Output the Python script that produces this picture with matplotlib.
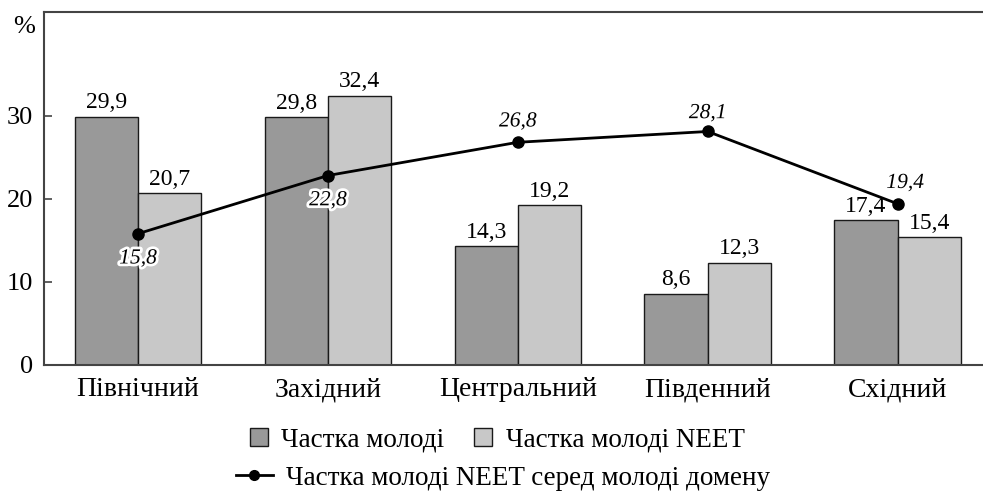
import matplotlib
matplotlib.use("Agg")
import matplotlib.pyplot as plt
import matplotlib.patheffects as pe
from matplotlib.lines import Line2D
from matplotlib.patches import Patch
import numpy as np

categories = ["Північний", "Західний", "Центральний", "Південний", "Східний"]
youth_share = [29.9, 29.8, 14.3, 8.6, 17.4]
neet_share = [20.7, 32.4, 19.2, 12.3, 15.4]
neet_in_domain = [15.8, 22.8, 26.8, 28.1, 19.4]
yticks = [0, 10, 20, 30]

label_series1 = "Частка молоді"
label_series2 = "Частка молоді NEET"
label_series3 = "Частка молоді NEET серед молоді домену"

plt.rcParams['font.family'] = ['Liberation Serif', 'DejaVu Serif']

fig = plt.figure(figsize=(9.83, 4.93), dpi=100)
ax = fig.add_axes([0.0448, 0.2597, 0.9552, 0.7163])

x = np.arange(len(categories))
w = 0.333
dark = "#999999"
light = "#c8c8c8"
edge = "#1a1a1a"

ax.bar(x - w / 2, youth_share, w, color=dark, edgecolor=edge, linewidth=1.0, zorder=2)
ax.bar(x + w / 2, neet_share, w, color=light, edgecolor=edge, linewidth=1.0, zorder=2)

for xi, v in zip(x, youth_share):
    ax.text(xi - w / 2, v + 0.4, f"{v:.1f}".replace(".", ","), ha="center", va="bottom",
            fontsize=17, zorder=4)
for xi, v in zip(x, neet_share):
    ax.text(xi + w / 2, v + 0.4, f"{v:.1f}".replace(".", ","), ha="center", va="bottom",
            fontsize=17, zorder=4)

ax.plot(x, neet_in_domain, color="black", linewidth=2, marker="o", markersize=8, zorder=5)

# label offsets (in data units) for the line values
offs = [(0, -1.9, "top"), (0, -1.9, "top"), (0, 1.3, "bottom"), (0, 1.0, "bottom"), (0.04, 1.3, "bottom")]
for xi, v, (dx, dy, va) in zip(x, neet_in_domain, offs):
    ax.text(xi + dx, v + dy, f"{v:.1f}".replace(".", ","), ha="center", va=va,
            fontsize=15.5, style="italic", zorder=6,
            path_effects=[pe.withStroke(linewidth=4, foreground="white")])

ax.set_xlim(-0.495, 4.45)
ax.set_ylim(0, 42.5)
ax.set_yticks(yticks)
ax.set_yticklabels([str(t) for t in yticks], fontsize=19)
ax.set_xticks(x)
ax.set_xticklabels(categories, fontsize=20)
ax.tick_params(axis="y", direction="in", length=6, width=1.2, color="#444444", pad=8)
ax.tick_params(axis="x", length=0, pad=9)

for s in ["left", "top", "bottom"]:
    ax.spines[s].set_color("#444444")
    ax.spines[s].set_linewidth(1.5)
ax.spines["right"].set_visible(False)

fig.text(0.024, 0.945, "%", ha="center", va="center", fontsize=19)

h1 = [Patch(facecolor=dark, edgecolor=edge, linewidth=1.0),
      Patch(facecolor=light, edgecolor=edge, linewidth=1.0)]
leg1 = fig.legend(h1, [label_series1, label_series2], loc="center", ncol=2,
                  bbox_to_anchor=(0.506, 0.107), frameon=False, fontsize=19.5,
                  handlelength=0.65, handleheight=0.65, handletextpad=0.5, columnspacing=1.1,
                  borderpad=0, borderaxespad=0)
h2 = [Line2D([0], [0], color="black", linewidth=2, marker="o", markersize=7)]
leg2 = fig.legend(h2, [label_series3], loc="center", bbox_to_anchor=(0.512, 0.030),
                  frameon=False, fontsize=19.5, handlelength=1.35, handletextpad=0.5,
                  borderpad=0, borderaxespad=0)

fig.savefig("out.png", dpi=100)
